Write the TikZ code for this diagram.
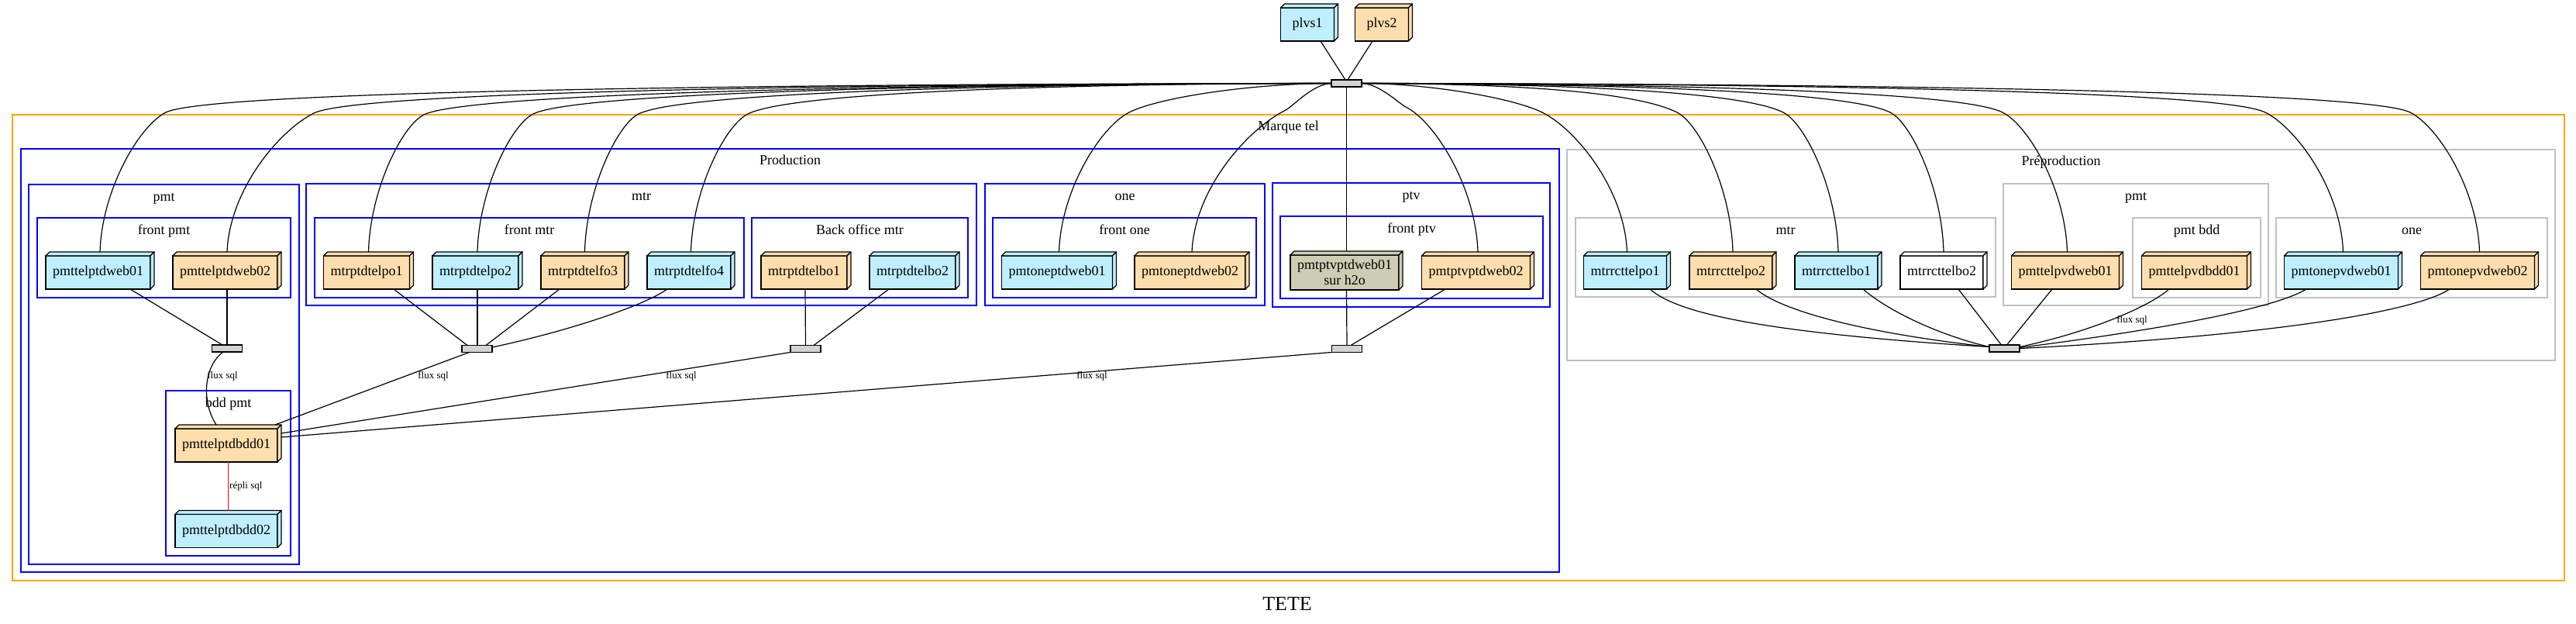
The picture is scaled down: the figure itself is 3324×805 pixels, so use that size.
\documentclass[tikz,border=0pt]{standalone}
\usepackage{fontspec}
\setmainfont{Liberation Serif}
\usetikzlibrary{calc}
\definecolor{lb}{RGB}{191,239,255}
\definecolor{nw}{RGB}{255,222,173}
\definecolor{ly}{RGB}{205,205,180}
\definecolor{hubc}{RGB}{211,211,211}
\definecolor{clgray}{RGB}{192,192,192}
\definecolor{clorange}{RGB}{255,165,0}
\tikzset{
 wire/.style={line width=1.2pt, draw=black},
 srv/.style={draw=black, line width=1.2pt, rectangle, inner xsep=9pt, inner ysep=0pt, minimum height=43pt, outer sep=0pt, font=\fontsize{18}{19.5}\selectfont, text height=12.5pt, text depth=4pt},
 hub/.style={draw=black, line width=1.2pt, fill=hubc, minimum width=39pt, minimum height=9pt, inner sep=0pt, outer sep=0pt},
 clbox/.style={rectangle, line width=2.6pt, inner sep=0pt, outer sep=0pt},
 cblue/.style={clbox, draw=blue},
 corange/.style={clbox, draw=clorange},
 cgray/.style={clbox, draw=clgray},
 clab/.style={font=\fontsize{18}{21}\selectfont, anchor=base, inner sep=0pt},
 elab/.style={font=\fontsize{13}{15}\selectfont, inner sep=0pt},
}
\newcommand\clu[7]{%
 \node[#2, minimum width={#5-#3}, minimum height={#6-#4}] (#1) at ({(#3+#5)/2},{(#4+#6)/2}) {};
 \node[clab] (#1-lab) at ([yshift=-21pt]#1.north) {#7};
}
\newcommand\srvbox[6]{%
 \node[srv, fill=#4, #5] (#1) at (#2,#3) {#6};
 \draw[line width=1.2pt, fill=#4, line join=round] (#1.north west) -- ++(5,-5) -- ([shift={(5,-5)}]#1.north east) -- (#1.north east) -- cycle;
 \draw[line width=1.2pt, fill=#4, line join=round] (#1.north east) -- ++(5,-5) -- ([shift={(5,-5)}]#1.south east) -- (#1.south east) -- cycle;
}
\newcommand\hubedge[8]{%
 \pgfmathsetmacro\hsg{sign(#4-#2)}%
 \pgfmathsetmacro\ha{min(0.15*abs(#4-#2),60)}%
 \pgfmathsetmacro\hb{0.4*abs(#6-#4)}%
 \pgfmathsetmacro\cax{#2+0.4*(#4-#2)}%
 \pgfmathsetmacro\cbx{#4-\hsg*\ha}%
 \pgfmathsetmacro\cby{#5-0.5*\ha}%
 \pgfmathsetmacro\ccx{#4+\hsg*\hb}%
 \pgfmathsetmacro\ccy{#5+0.5*\hb}%
 \pgfmathsetmacro\cdx{#6-0.03*(#6-#4)}%
 \pgfmathsetmacro\cdy{#5+0.55*(#7-#5)}%
 \draw[wire] (#1) .. controls (\cax,#3) and (\cbx,\cby) .. (#4,#5) .. controls (\ccx,\ccy) and (\cdx,\cdy) .. ([xshift=2.5pt,yshift=5pt]#8.north);
}
\begin{document}
\begin{tikzpicture}[x=1pt,y=-1pt]
\useasboundingbox (0,0) rectangle (3324,805);
% clusters
\clu{mt}{corange}{16}{148}{3309}{749}{Marque tel}
\clu{prod}{cblue}{27}{192}{2012}{738}{Production}
\clu{cpmt}{cblue}{37}{238}{386}{728}{pmt}
\clu{cfpmt}{cblue}{48}{281}{375}{384}{front pmt}
\clu{cbdd}{cblue}{214}{504}{375}{717}{bdd pmt}
\clu{cmtr}{cblue}{395}{237}{1260}{394}{mtr}
\clu{cfmtr}{cblue}{406}{281}{960}{384}{front mtr}
\clu{cbo}{cblue}{970}{281}{1249}{384}{Back office mtr}
\clu{cone}{cblue}{1271}{237}{1632}{394}{one}
\clu{cfone}{cblue}{1281}{281}{1621}{384}{front one}
\clu{cptv}{cblue}{1642}{236}{2000}{396}{ptv}
\clu{cfptv}{cblue}{1652}{279}{1991}{385}{front ptv}
\clu{pre}{cgray}{2022}{193}{3297}{465}{Préproduction}
\clu{pmtr}{cgray}{2033}{281}{2575}{383}{mtr}
\clu{ppmt}{cgray}{2585}{237}{2927}{394}{pmt}
\clu{pbdd}{cgray}{2752}{281}{2917}{384}{pmt bdd}
\clu{pone}{cgray}{2937}{281}{3287}{384}{one}
% servers
\srvbox{plvsa}{1687}{31.5}{lb}{minimum width=69pt}{plvs1}
\srvbox{plvsb}{1783}{31.5}{nw}{minimum width=69pt}{plvs2}
\srvbox{w1}{126.5}{351.5}{lb}{}{pmttelptdweb01}
\srvbox{w2}{290.5}{351.5}{nw}{}{pmttelptdweb02}
\srvbox{m1}{473}{351.5}{nw}{}{mtrptdtelpo1}
\srvbox{m2}{613.5}{351.5}{lb}{}{mtrptdtelpo2}
\srvbox{m3}{752}{351.5}{nw}{}{mtrptdtelfo3}
\srvbox{m4}{889}{351.5}{lb}{}{mtrptdtelfo4}
\srvbox{b1}{1037.5}{351.5}{nw}{}{mtrptdtelbo1}
\srvbox{b2}{1177.5}{351.5}{lb}{}{mtrptdtelbo2}
\srvbox{o1}{1364}{351.5}{lb}{}{pmtoneptdweb01}
\srvbox{o2}{1535.5}{351.5}{nw}{}{pmtoneptdweb02}
\srvbox{p1}{1735}{351.5}{ly}{align=center, text height=, text depth=, minimum height=45pt}{pmtptvptdweb01\\sur h2o}
\srvbox{p2}{1904.5}{351.5}{nw}{}{pmtptvptdweb02}
\srvbox{r1}{2097}{351.5}{lb}{}{mtrrcttelpo1}
\srvbox{r2}{2233.5}{351.5}{nw}{}{mtrrcttelpo2}
\srvbox{r3}{2369.5}{351.5}{lb}{}{mtrrcttelbo1}
\srvbox{r4}{2505.5}{351.5}{white}{}{mtrrcttelbo2}
\srvbox{q1}{2665}{351.5}{nw}{}{pmttelpvdweb01}
\srvbox{q2}{2831.5}{351.5}{nw}{}{pmttelpvdbdd01}
\srvbox{s1}{3021}{351.5}{lb}{}{pmtonepvdweb01}
\srvbox{s2}{3197}{351.5}{nw}{}{pmtonepvdweb02}
\srvbox{d1}{292}{574.5}{nw}{}{pmttelptdbdd01}
\srvbox{d2}{292}{685}{lb}{}{pmttelptdbdd02}
% hubs
\node[hub] (H0) at (1737.5,107.5) {};
\node[hub] (Hpmt) at (293,449.5) {};
\node[hub] (Hmtr) at (615.5,450) {};
\node[hub] (Hbo) at (1039.5,450) {};
\node[hub] (Hptv) at (1738,450) {};
\node[hub] (Hpre) at (2586.5,449.5) {};
% top edges
\draw[wire] ([xshift=17pt]plvsa.south) -- ([xshift=-1.5pt]H0.north);
\draw[wire] ([xshift=-12pt]plvsb.south) -- ([xshift=1.5pt]H0.north);
\draw[wire] (H0.south) -- ([xshift=2.5pt,yshift=5pt]p1.north);
\hubedge{H0.west}{1718}{108}{214}{145}{129}{325}{w1}
\hubedge{H0.west}{1718}{108}{405}{146}{293}{325}{w2}
\hubedge{H0.west}{1718}{108}{547}{148}{475.5}{325}{m1}
\hubedge{H0.west}{1718}{108}{688}{147}{616}{325}{m2}
\hubedge{H0.west}{1718}{108}{824}{147}{754.5}{325}{m3}
\hubedge{H0.west}{1718}{108}{965}{147}{891.5}{325}{m4}
\hubedge{H0.west}{1718}{108}{1457}{145}{1366.5}{325}{o1}
\hubedge{H0.west}{1718}{108}{1659}{142}{1538}{325}{o2}
\hubedge{H0.east}{1757}{108}{1814}{138}{1907}{325}{p2}
\hubedge{H0.east}{1757}{108}{1990}{145}{2099.5}{325}{r1}
\hubedge{H0.east}{1757}{108}{2164}{145}{2236}{325}{r2}
\hubedge{H0.east}{1757}{108}{2301}{145}{2372}{325}{r3}
\hubedge{H0.east}{1757}{108}{2439}{145}{2508}{325}{r4}
\hubedge{H0.east}{1757}{108}{2584}{145}{2667.5}{325}{q1}
\hubedge{H0.east}{1757}{108}{2923}{145}{3023.5}{325}{s1}
\hubedge{H0.east}{1757}{108}{3110}{145}{3199.5}{325}{s2}
% production lower edges
\draw[wire] ([xshift=41.5pt]w1.south) -- ([xshift=-6pt]Hpmt.north);
\draw[wire] ([xshift=2.5pt]w2.south) -- (Hpmt.north);
\draw[wire] ([xshift=-5pt]Hpmt.south) .. controls (265,470) and (258,515) .. ([xshift=-13pt,yshift=5pt]d1.north);
\node[elab] (l1) at (287,485) {flux sql};
\draw[wire] ([xshift=35pt]m1.south) -- ([xshift=-12.5pt]Hmtr.north);
\draw[wire] ([xshift=2.5pt]m2.south) -- ([xshift=0.5pt]Hmtr.north);
\draw[wire] ([xshift=-30pt]m3.south) -- ([xshift=11.5pt]Hmtr.north);
\draw[wire] ([xshift=-28pt]m4.south) .. controls (830,395) and (730,428) .. ([yshift=2pt]Hmtr.east);
\draw[wire] ([xshift=-10pt]Hmtr.south) -- ([xshift=-3pt,yshift=5pt]d1.north east);
\node[elab] (l2) at (559,485) {flux sql};
\draw[wire] ([xshift=1.5pt]b1.south) -- (Hbo.north);
\draw[wire] ([xshift=-30.5pt]b2.south) -- ([xshift=10.5pt]Hbo.north);
\draw[wire] (Hbo.south west) -- ([xshift=5pt,yshift=-6pt]d1.north east);
\node[elab] (l3) at (879,485) {flux sql};
\draw[wire] ([xshift=2.5pt]p1.south) -- (Hptv.north);
\draw[wire] ([xshift=-39.5pt]p2.south) -- ([xshift=5pt]Hptv.north);
\draw[wire] (Hptv.south west) -- ([xshift=5pt,yshift=-11pt]d1.north east);
\node[elab] (l4) at (1409,485) {flux sql};
\draw[red, line width=1.2pt] ([xshift=2.5pt]d1.south) -- ([xshift=2.5pt,yshift=5pt]d2.north);
\node[elab, anchor=west] (l5) at (296,627) {répli sql};
% preproduction lower edges
\draw[wire] ([xshift=32pt]r1.south) .. controls (2160,400) and (2250,428) .. ([yshift=2pt]Hpre.west);
\draw[wire] ([xshift=32.5pt]r2.south) .. controls (2295,398) and (2390,428) .. ([yshift=2pt]Hpre.west);
\draw[wire] ([xshift=34.5pt]r3.south) .. controls (2435,400) and (2500,432) .. ([yshift=2pt]Hpre.west);
\draw[wire] ([xshift=21.5pt]r4.south) -- ([xshift=-4pt]Hpre.north);
\draw[wire] ([xshift=-17pt]q1.south) -- ([xshift=3pt]Hpre.north);
\draw[wire] ([xshift=-32.5pt]q2.south) .. controls (2770,398) and (2690,430) .. ([yshift=2pt]Hpre.east);
\node[elab] (l6) at (2751,413) {flux sql};
\draw[wire] ([xshift=-45pt]s1.south) .. controls (2935,398) and (2790,425) .. ([yshift=1pt]Hpre.east);
\draw[wire] ([xshift=-36pt]s2.south) .. controls (3120,400) and (2950,432) .. (Hpre.east);
% title
\node[clab, font=\fontsize{26}{30}\selectfont] (title) at (1661,787) {TETE};
\end{tikzpicture}
\end{document}
